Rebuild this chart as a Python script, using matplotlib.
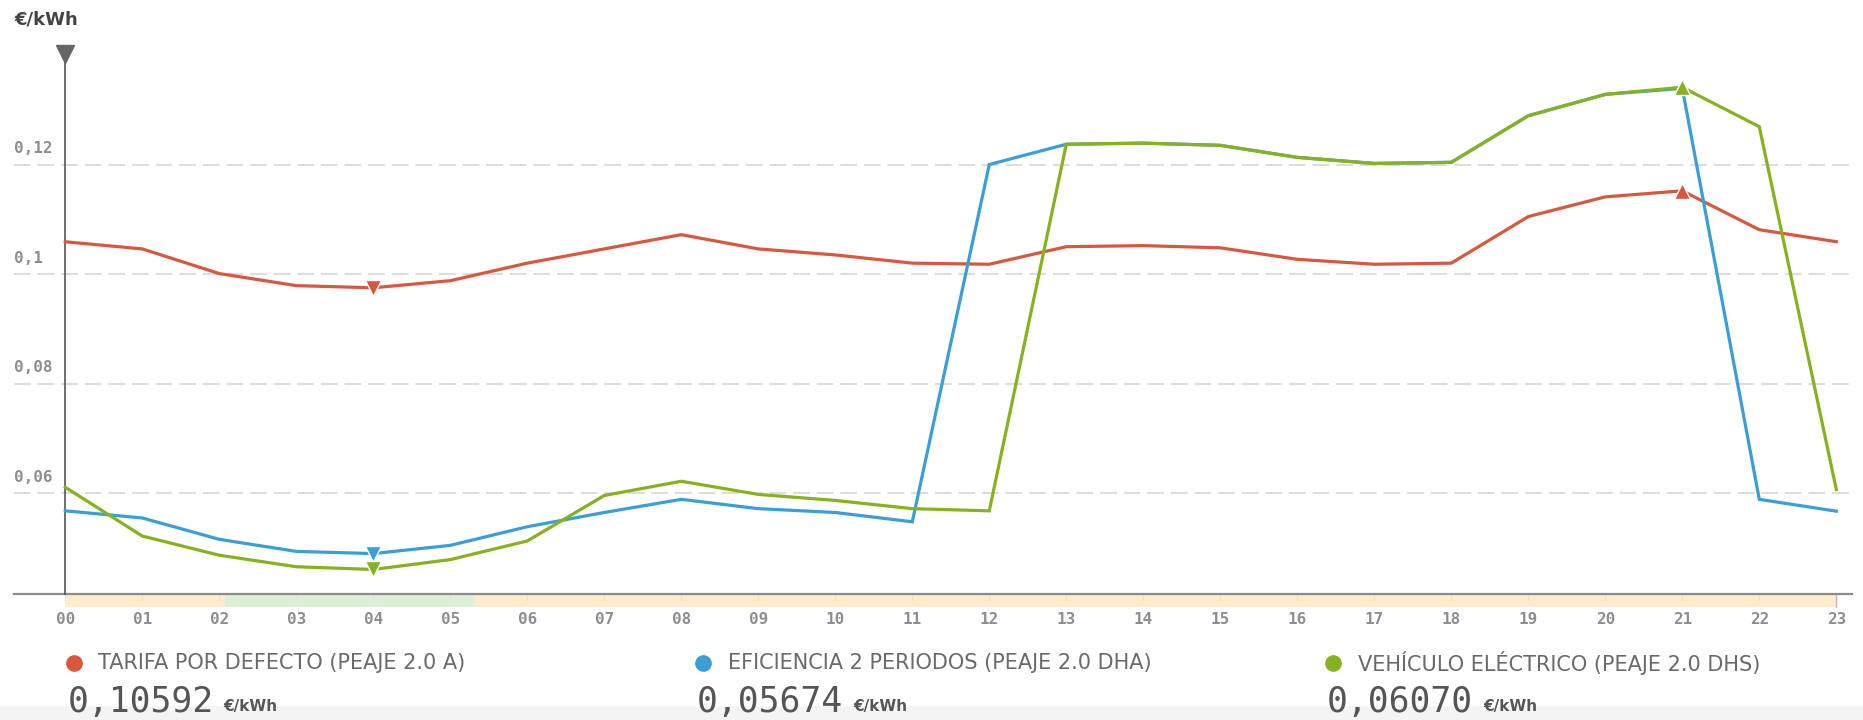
import numpy as np
import matplotlib
matplotlib.use("Agg")
import matplotlib.pyplot as plt
from matplotlib.lines import Line2D
from matplotlib.patches import Rectangle
from matplotlib.transforms import blended_transform_factory

hours = list(range(24))
hour_labels = [f"{h:02d}" for h in hours]

tarifa = [0.1059, 0.1046, 0.1001, 0.0979, 0.0975, 0.0988, 0.1020, 0.1046,
          0.1072, 0.1046, 0.1035, 0.1020, 0.1018, 0.1050, 0.1052, 0.1048,
          0.1027, 0.1018, 0.1020, 0.1105, 0.1141, 0.1152, 0.1081, 0.10592]
eficiencia = [0.0568, 0.0555, 0.0516, 0.0494, 0.0490, 0.0505, 0.0539, 0.0565,
              0.0589, 0.0572, 0.0565, 0.0548, 0.1200, 0.1237, 0.1239, 0.1235,
              0.1213, 0.1202, 0.1204, 0.1289, 0.1328, 0.1339, 0.0589, 0.05674]
vehiculo = [0.0611, 0.0522, 0.0487, 0.0466, 0.0461, 0.0479, 0.0513, 0.0596,
            0.0622, 0.0598, 0.0587, 0.0572, 0.0568, 0.1237, 0.1239, 0.1235,
            0.1213, 0.1202, 0.1204, 0.1289, 0.1328, 0.1341, 0.1269, 0.06070]

series_names = ["TARIFA POR DEFECTO (PEAJE 2.0 A)",
                "EFICIENCIA 2 PERIODOS (PEAJE 2.0 DHA)",
                "VEHÍCULO ELÉCTRICO (PEAJE 2.0 DHS)"]
series_values = ["0,10592", "0,05674", "0,06070"]
colors = ["#d9583d", "#3a9fd8", "#86b21f"]

yticks = [0.06, 0.08, 0.10, 0.12]
ytick_labels = ["0,06", "0,08", "0,1", "0,12"]

# band under the x axis: (start hour, end hour, colour)
bands = [(0.0, 2.07, "#fdedcc"), (2.07, 5.32, "#dcf0d6"), (5.32, 23.0, "#fdedcc")]

W, H = 1863, 720
fig = plt.figure(figsize=(W / 100, H / 100), dpi=100)
ax = fig.add_axes([14 / W, 1 - 594.3 / H, (1852 - 14) / W, (594.3 - 45) / H])
ax.set_xlim(-0.666, 23.204)
ax.set_ylim(0.04157, 0.14181)
for s in ax.spines.values():
    s.set_visible(False)
ax.axhline(0.04157, color="#8c8c8c", lw=1.6, zorder=3, clip_on=False)

plt.rcParams["lines.scale_dashes"] = False
for v, lab in zip(yticks, ytick_labels):
    ax.axhline(v, color="#dddddd", lw=1.5, dashes=(12, 5), zorder=1)
    ax.annotate(lab, xy=(0, v),
                xycoords=blended_transform_factory(ax.transAxes, ax.transData),
                xytext=(0, 6), textcoords="offset points", ha="left", va="bottom",
                fontsize=11.5, fontweight="bold", family="DejaVu Sans Mono", color="#8e8e8e")

# y axis line with arrow
ax.plot([0, 0], [0.04157, 0.1385], color="#555555", lw=1.2, zorder=3, clip_on=False)
ax.plot([0], [0.1402], marker="v", ms=13, color="#666666", clip_on=False, zorder=4)

# band under axis
btr = blended_transform_factory(ax.transData, ax.transAxes)
bh = 13 / 549.3
for x0, x1, c in bands:
    ax.add_patch(Rectangle((x0, -bh), x1 - x0, bh, transform=btr, color=c,
                           clip_on=False, zorder=2, lw=0))
for h in hours:
    ax.plot([h, h], [-bh * 0.4, 0], transform=btr, color="#e2e2e2", lw=0.8, clip_on=False, zorder=2)
ax.plot([23, 23], [-bh, 0], transform=btr, color="#bbbbbb", lw=1, clip_on=False, zorder=2)

# series
for vals, c in zip([tarifa, eficiencia, vehiculo], colors):
    ax.plot(hours, vals, color=c, lw=2.3, zorder=5, solid_joinstyle="miter")
for vals, c, show_max in zip([tarifa, eficiencia, vehiculo], colors, [True, False, True]):
    imin = int(np.argmin(vals))
    ax.plot(hours[imin], vals[imin], marker="v", ms=11, color=c, mec="white", mew=1, zorder=6)
    if show_max:
        imax = int(np.argmax(vals))
        ax.plot(hours[imax], vals[imax], marker="^", ms=11, color=c, mec="white", mew=1, zorder=6)

ax.set_yticks([])
ax.set_xticks(hours)
ax.set_xticklabels(hour_labels, fontsize=11.5, fontweight="bold", family="DejaVu Sans Mono",
                   color="#8e8e8e")
ax.tick_params(axis="x", length=0, pad=13)

fig.text(14 / W, 1 - 10 / H, "€/kWh", ha="left", va="top", fontsize=13, fontweight="bold",
         color="#444444", family="DejaVu Sans")

# bottom grey strip
fig.add_artist(Rectangle((0, 0), 1, 14 / H, transform=fig.transFigure, color="#f4f4f4",
                         zorder=0, lw=0))

# legend
dot_x = [73.5, 703, 1333]
for name, val, c, dx in zip(series_names, series_values, colors, dot_x):
    fig.add_artist(Line2D([dx / W], [1 - 663 / H], marker="o", ms=11, color=c,
                          transform=fig.transFigure))
    fig.text((dx + 25) / W, 1 - 663 / H, name, ha="left", va="center", fontsize=15,
             color="#6a6a6a", family="DejaVu Sans")
    fig.text((dx - 6) / W, 1 - 712 / H, val, ha="left", va="baseline", fontsize=25,
             color="#555555", family="DejaVu Sans Mono", zorder=5)
    fig.text((dx + 150) / W, 1 - 711 / H, "€/kWh", ha="left", va="baseline", fontsize=11,
             fontweight="bold", color="#555555", family="DejaVu Sans", zorder=5)

fig.savefig("out.png", dpi=100)
